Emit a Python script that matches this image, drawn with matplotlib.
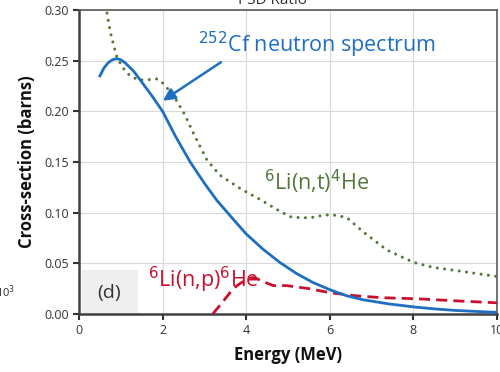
import matplotlib
matplotlib.use("Agg")
import matplotlib.pyplot as plt
from matplotlib.patches import Rectangle

# Data
cf_E = [0.5, 0.6, 0.7, 0.8, 0.9, 1.0, 1.1, 1.3, 1.5, 1.75, 2.0, 2.3, 2.66, 3.0, 3.3, 3.7, 4.0, 4.4, 4.8, 5.2, 5.6, 6.0, 6.4, 6.8, 7.4, 8.0, 8.5, 9.0, 9.5, 10.0]
cf_val = [0.235, 0.243, 0.248, 0.251, 0.252, 0.251, 0.248, 0.240, 0.229, 0.215, 0.200, 0.176, 0.150, 0.129, 0.112, 0.093, 0.079, 0.064, 0.051, 0.040, 0.031, 0.024, 0.018, 0.014, 0.010, 0.007, 0.005, 0.0035, 0.0025, 0.0016]

nt_E = [0.67, 0.75, 0.85, 0.91, 1.05, 1.2, 1.41, 1.6, 1.87, 2.0, 2.15, 2.3, 2.54, 2.73, 3.06, 3.37, 3.85, 4.33, 4.74, 5.05, 5.3, 5.53, 5.8, 6.0, 6.2, 6.41, 6.8, 7.37, 8.0, 8.47, 9.0, 9.5, 10.0]
nt_val = [0.297, 0.278, 0.262, 0.253, 0.243, 0.236, 0.231, 0.231, 0.232, 0.228, 0.221, 0.213, 0.196, 0.179, 0.152, 0.137, 0.124, 0.113, 0.103, 0.096, 0.095, 0.095, 0.097, 0.098, 0.097, 0.095, 0.081, 0.063, 0.051, 0.046, 0.043, 0.040, 0.037]

np_E = [3.2, 3.4, 3.69, 3.85, 4.02, 4.15, 4.25, 4.4, 4.65, 4.97, 5.5, 6.0, 6.6, 7.27, 8.08, 9.0, 10.0]
np_val = [0.0, 0.010, 0.025, 0.030, 0.034, 0.036, 0.035, 0.032, 0.028, 0.028, 0.025, 0.021, 0.018, 0.016, 0.015, 0.013, 0.011]

x_ticks = [0, 2, 4, 6, 8, 10]
y_ticks = [0.00, 0.05, 0.10, 0.15, 0.20, 0.25, 0.30]

plt.rcParams['font.family'] = ['Open Sans', 'DejaVu Sans']

fig = plt.figure(figsize=(5.0, 3.72), dpi=100)
ax = fig.add_axes([0.158, 0.156, 0.836, 0.817])

blue = '#1f6fc1'
green = '#55773a'
red = '#c8102e'

ax.add_patch(Rectangle((0.07, 0.0), 1.34, 0.043, facecolor='#efefef', edgecolor='none', zorder=0))
ax.text(0.72, 0.021, '(d)', fontsize=14, ha='center', va='center', color='#333333')

ax.plot(cf_E, cf_val, color=blue, lw=2.0, zorder=4)
ax.plot(nt_E, nt_val, color=green, lw=2.2, linestyle=(0, (0.01, 2.4)), dash_capstyle='round', zorder=3)
ax.plot(np_E, np_val, color=red, lw=2.0, linestyle=(0, (4, 2.2)), zorder=3)

ax.set_xlim(0, 10)
ax.set_ylim(0, 0.30)
ax.set_xticks(x_ticks)
ax.set_yticks(y_ticks)
ax.set_xticklabels([str(v) for v in x_ticks])
ax.set_yticklabels(['%.2f' % v for v in y_ticks])
ax.tick_params(axis='both', labelsize=9, colors='#333333', direction='out', length=4, width=1.5)
ax.grid(True, color='#d9d9d9', lw=0.8)
ax.set_axisbelow(True)
for s in ['left', 'bottom']:
    ax.spines[s].set_color('#404040')
    ax.spines[s].set_linewidth(1.8)
for s in ['top', 'right']:
    ax.spines[s].set_color('#595959')
    ax.spines[s].set_linewidth(1.2)

ax.set_xlabel('Energy (MeV)', fontsize=12, fontweight='bold', color='#111111', labelpad=6)
ax.set_ylabel('Cross-section (barns)', fontsize=12, fontweight='bold', color='#111111', labelpad=6)

ax.annotate('', xy=(1.95, 0.209), xytext=(3.45, 0.250),
            arrowprops=dict(arrowstyle='-|>', color=blue, lw=1.8, mutation_scale=18))
ax.text(2.85, 0.258, r'$^{252}$Cf neutron spectrum', color=blue, fontsize=15.5, ha='left', va='baseline')
ax.text(4.43, 0.122, r'$^{6}$Li(n,t)$^{4}$He', color=green, fontsize=15.5, ha='left', va='baseline')
ax.text(1.65, 0.026, r'$^{6}$Li(n,p)$^{6}$He', color=red, fontsize=15.5, ha='left', va='baseline')

fig.text(0.545, 1.0, 'PSD Ratio', fontsize=11, color='#333333', ha='center', va='center')
fig.text(-0.008, 0.215, r'10$^{3}$', fontsize=8, color='#333333', ha='left', va='center')

fig.savefig('out.png', dpi=100)
